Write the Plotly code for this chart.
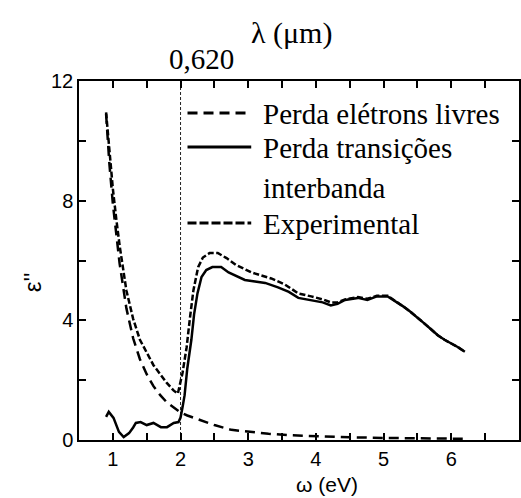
import plotly.graph_objects as go

# ---- data ----
omega_free = [0.9, 0.95, 1.0, 1.05, 1.1, 1.2, 1.3, 1.4, 1.5, 1.6, 1.7, 1.8, 1.9, 2.0,
              2.1, 2.2, 2.35, 2.5, 2.75, 3.0, 3.3, 3.6, 4.0, 4.5, 5.0, 5.5, 6.0, 6.2]
eps_free = [10.9, 9.2, 7.9, 6.8, 5.9, 4.4, 3.4, 2.7, 2.2, 1.8, 1.5, 1.25, 1.07, 0.92,
            0.82, 0.74, 0.6, 0.5, 0.34, 0.27, 0.21, 0.16, 0.12, 0.09, 0.07, 0.05, 0.04, 0.04]

omega_inter = [0.9, 0.94, 1.01, 1.05, 1.09, 1.16, 1.24, 1.3, 1.34, 1.41,
               1.5, 1.6, 1.71, 1.8, 1.9, 1.97, 2.0, 2.03, 2.06, 2.1,
               2.16, 2.2, 2.25, 2.31, 2.38, 2.47, 2.6, 2.71, 2.81, 2.95,
               3.1, 3.25, 3.44, 3.6, 3.74, 3.93, 4.1, 4.22, 4.32, 4.43,
               4.53, 4.62, 4.76, 4.9, 5.06, 5.2, 5.3, 5.4, 5.5, 5.6,
               5.7, 5.8, 5.9, 6.0, 6.1, 6.2]
eps_inter = [0.77, 0.94, 0.74, 0.5, 0.27, 0.1, 0.23, 0.42, 0.57, 0.6,
             0.5, 0.57, 0.43, 0.43, 0.57, 0.6, 0.75, 1.1, 1.5, 2.4,
             3.35, 4.2, 4.9, 5.45, 5.68, 5.78, 5.78, 5.6, 5.5, 5.35,
             5.3, 5.25, 5.1, 4.95, 4.75, 4.68, 4.6, 4.5, 4.55, 4.68,
             4.72, 4.75, 4.68, 4.8, 4.8, 4.6, 4.45, 4.28, 4.1, 3.9,
             3.7, 3.5, 3.35, 3.23, 3.1, 2.95]

omega_exp = [0.9, 0.95, 1.0, 1.05, 1.1, 1.2, 1.3, 1.4, 1.5, 1.6,
             1.7, 1.8, 1.9, 1.96, 2.03, 2.09, 2.14, 2.19, 2.26, 2.33,
             2.43, 2.55, 2.68, 2.82, 3.05, 3.2, 3.34, 3.54, 3.74, 3.93,
             4.1, 4.22, 4.32, 4.43, 4.53, 4.62, 4.76, 4.9, 5.06, 5.2,
             5.3, 5.4, 5.5, 5.6, 5.7, 5.8, 5.9, 6.0, 6.1, 6.2]
eps_exp = [10.95, 9.6, 8.4, 7.4, 6.5, 5.0, 4.05, 3.35, 2.95, 2.5,
           2.2, 1.9, 1.65, 1.55, 2.25, 3.1, 4.1, 5.0, 5.78, 6.1,
           6.25, 6.25, 6.08, 5.85, 5.6, 5.5, 5.4, 5.2, 4.9, 4.8,
           4.7, 4.6, 4.6, 4.7, 4.75, 4.78, 4.72, 4.82, 4.82, 4.62,
           4.45, 4.28, 4.1, 3.9, 3.7, 3.5, 3.35, 3.23, 3.1, 2.95]

legend_names = ["Perda elétrons livres", "Perda transições", "interbanda", "Experimental"]
x_tickvals = [1, 1.5, 2, 2.5, 3, 3.5, 4, 4.5, 5, 5.5, 6, 6.5, 7]
x_ticktext = ["1", "", "2", "", "3", "", "4", "", "5", "", "6", "", "7"]
y_tickvals = [0, 2, 4, 6, 8, 10, 12]
y_ticktext = ["0", "", "4", "", "8", "", "12"]
lambda_mark = 2.0          # eV, vertical marker
lambda_label = "0,620"

# ---- figure ----
W, H = 521, 498
ML, MR, MT, MB = 79, 0, 81, 58
X0, X1 = 0.5, 7.0
Y0, Y1 = 0, 12

pw = W - ML - MR
ph = H - MT - MB
PB = MT + ph  # bottom of plot area in px


def px2x(p):
    return X0 + (p - ML) / pw * (X1 - X0)


def py2y(p):
    return Y0 + (PB - p) / ph * (Y1 - Y0)


fig = go.Figure()
# vertical dotted marker at the 0,620 um wavelength
fig.add_trace(go.Scatter(x=[lambda_mark, lambda_mark], y=[Y0, Y1], mode="lines", hoverinfo="skip",
                         line=dict(color="#222", width=1, dash="3px,2px")))
fig.add_trace(go.Scatter(x=omega_free, y=eps_free, mode="lines", name=legend_names[0],
                         line=dict(color="black", width=2.5, dash="10px,6px")))
fig.add_trace(go.Scatter(x=omega_inter, y=eps_inter, mode="lines", name=legend_names[1] + " " + legend_names[2],
                         line=dict(color="black", width=2.5)))
fig.add_trace(go.Scatter(x=omega_exp, y=eps_exp, mode="lines", name=legend_names[3],
                         line=dict(color="black", width=2.5, dash="6px,2.5px")))

# manual legend (sample lines + texts)
serif = "Liberation Serif, Times New Roman, serif"
leg_x0, leg_x1, leg_tx = px2x(188), px2x(252), px2x(262)
rows = [113, 147, 187, 223]
dashes = ["10px,6px", "solid", None, "9px,3px"]
for name, r, d in zip(legend_names, rows, dashes):
    if d is not None:
        fig.add_trace(go.Scatter(x=[leg_x0, leg_x1], y=[py2y(r), py2y(r)], mode="lines", hoverinfo="skip",
                                 line=dict(color="black", width=3, dash=d)))
    fig.add_annotation(x=leg_tx, y=py2y(r + 1), xref="x", yref="y", text=name, showarrow=False,
                       xanchor="left", yanchor="middle", font=dict(family=serif, size=29, color="black"))


def ann(px, py, text, font, angle=0):
    fig.add_annotation(x=(px - ML) / pw, y=(PB - py) / ph, xref="paper", yref="paper",
                       text=text, showarrow=False, xanchor="center", yanchor="middle",
                       textangle=angle, font=font)


sans = "Liberation Sans, Arial, sans-serif"
ann(292, 33, "λ (μm)", dict(family=serif, size=30, color="black"))
ann(202, 59, lambda_label, dict(family=serif, size=29, color="black"))
ann(328, 484, "ω (eV)", dict(family=sans, size=21, color="black"))
ann(32, 282, "ε''", dict(family=sans, size=24, color="black"), angle=-90)

fig.update_layout(
    width=W, height=H, margin=dict(l=ML, r=MR, t=MT, b=MB),
    paper_bgcolor="white", plot_bgcolor="white", showlegend=False,
    font=dict(family=sans, size=20, color="black"),
)
fig.update_xaxes(range=[X0, X1], tickmode="array", tickvals=x_tickvals, ticktext=x_ticktext,
                 ticks="inside", ticklen=7, tickwidth=2, tickcolor="#000",
                 showline=True, linewidth=1.5, linecolor="black", mirror="ticks",
                 showgrid=False, zeroline=False, layer="above traces")
fig.update_yaxes(range=[Y0, Y1], tickmode="array", tickvals=y_tickvals, ticktext=y_ticktext,
                 ticks="inside", ticklen=7, tickwidth=2, tickcolor="#000",
                 showline=True, linewidth=1.5, linecolor="black", mirror="ticks",
                 showgrid=False, zeroline=False, ticksuffix=" ", layer="above traces")

fig.write_html("out.html")
